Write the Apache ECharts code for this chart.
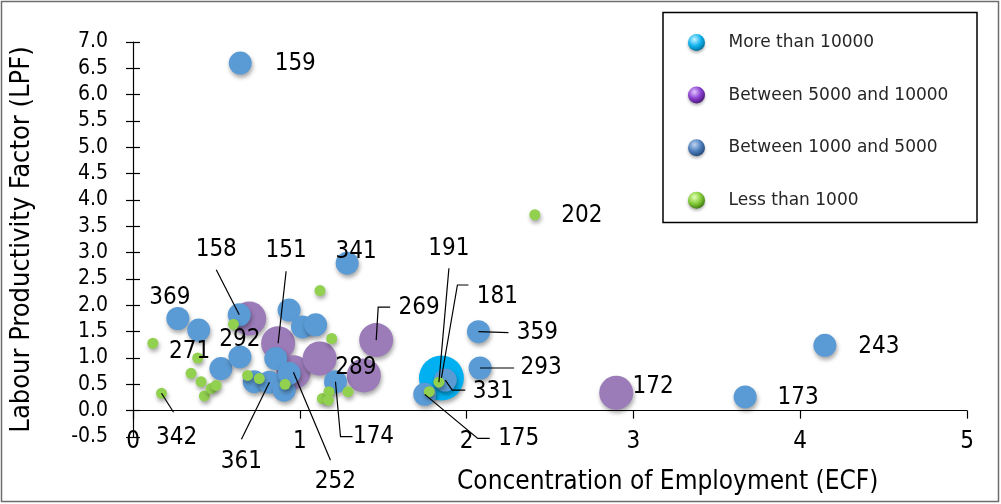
<!DOCTYPE html>
<html>
<head>
<meta charset="utf-8">
<script src="https://cdn.jsdelivr.net/npm/echarts@6/dist/echarts.min.js"></script>
<style>
 html,body{margin:0;padding:0;background:#fff;}
 #chart{width:1001px;height:504px;}
</style>
</head>
<body>
<div id="chart"></div>
<script>
// ---- data: ECF (x), LPF (y), label id per bubble ('' = no label) ----
var cyanX=[1.849];
var cyanY=[0.62];
var cyanId=['181'];

var purpleX=[0.697,0.870,0.962,1.119,1.458,1.384,2.897];
var purpleY=[1.75,1.28,0.73,0.99,1.34,0.67,0.34];
var purpleId=['','151','252','','269','289','172'];

var blueX=[0.643,0.269,0.394,0.527,0.641,0.637,0.727,0.856,0.818,0.906,0.936,0.936,1.016,1.095,1.284,1.214,1.872,1.749,2.071,2.081,3.670,4.148];
var blueY=[6.60,1.75,1.53,0.80,1.02,1.82,0.55,0.99,0.54,0.39,0.71,1.91,1.59,1.63,2.80,0.55,0.58,0.31,1.50,0.81,0.26,1.24];
var blueId=['159','369','','','292','158','','','361','','','','','','341','174','331','175','359','293','173','243'];

var greenX=[0.119,0.171,0.388,0.348,0.408,0.428,0.468,0.498,0.602,0.687,0.757,0.912,1.121,1.191,1.135,1.175,1.171,1.289,1.834,1.776,2.409];
var greenY=[1.28,0.33,1.00,0.71,0.55,0.28,0.42,0.48,1.64,0.67,0.61,0.50,2.28,1.37,0.23,0.36,0.20,0.36,0.54,0.36,3.72];
var greenId=['','342','271','','','','','','','','','','','','','','','','191','','202'];

var seriesNames=['More than 10000','Between 5000 and 10000','Between 1000 and 5000','Less than 1000'];
var xTicks=[0,1,2,3,4,5];

// ---- label placement (px, relative to bubble centre) ----
// off: label centre; start: leader end at the label (rel. to label centre); e: elbow length
var labelPlace={
 '159':{off:[55,1]}, '369':{off:[-8,-21]}, '292':{off:[0,-17]}, '341':{off:[9,-11]},
 '173':{off:[53,1]}, '243':{off:[54,1]}, '289':{off:[-8,-8]}, '172':{off:[37,-6]},
 '271':{off:[-8,-6]}, '202':{off:[47,1]},
 '158':{off:[-23,-65],start:[0,20]},
 '151':{off:[8,-92],start:[0,20]},
 '361':{off:[-28,80],start:[0,-23]},
 '252':{off:[42,110],start:[-5,-22]},
 '342':{off:[15,44],start:[-3,-25]},
 '191':{off:[10,-133],start:[0,19]},
 '359':{off:[59,1],start:[-29,0]},
 '293':{off:[61,0],start:[-27,0]},
 '174':{off:[38,55],start:[-21,0],e:12},
 '331':{off:[48,12],start:[-28,-2],e:13},
 '175':{off:[94,44],start:[-29,0],e:12},
 '269':{off:[43,-32],start:[-29,-1],e:12},
 '181':{off:[56,-81],start:[-29,-12],e:11}
};

var NARROW='"Liberation Sans Narrow","Arial Narrow","DejaVu Sans Condensed",sans-serif';
var colors=['#00B0F0','#9B7BB8','#5B9BD5','#92D050'];
var sizes=[45,34,23,11];
var xs=[cyanX,purpleX,blueX,greenX];
var ys=[cyanY,purpleY,blueY,greenY];
var ids=[cyanId,purpleId,blueId,greenId];

function ball(c0,c1,c2){
 return new echarts.graphic.RadialGradient(0.38,0.32,0.7,[
  {offset:0,color:c0},{offset:0.55,color:c1},{offset:1,color:c2}]);
}
var legendBalls=[ball('#c8f4ff','#12b4f0','#00709c'),ball('#e2c6ff','#8a3fd0','#4b1878'),
                 ball('#bcd6f0','#4f7fbf','#254a7a'),ball('#e4ffb8','#86cc3a','#3f7a12')];

function points(k){
 return xs[k].map(function(x,i){
  return {value:[x,ys[k][i]],name:ids[k][i],label:{show:!!ids[k][i]}};
 });
}

var chart=echarts.init(document.getElementById('chart'),null,{renderer:'canvas'});

var series=seriesNames.map(function(n,k){
 return {
  name:n,type:'scatter',
  symbolSize:sizes[k],
  data:points(k),
  itemStyle:{color:colors[k],opacity:1,shadowBlur:4,shadowOffsetX:1,shadowOffsetY:3,shadowColor:'rgba(0,0,0,0.35)'},
  label:{show:true,formatter:'{b}',color:'#000',fontFamily:NARROW,fontSize:24,position:'inside'},
  labelLayout:function(p){
   var lp=labelPlace[ids[p.seriesIndex][p.dataIndex]];
   if(!lp)return {};
   var cx=p.rect.x+p.rect.width/2, cy=p.rect.y+p.rect.height/2;
   return {x:cx+lp.off[0],y:cy+lp.off[1],align:'center',verticalAlign:'middle'};
  },
  emphasis:{disabled:true}
 };
});

chart.setOption({
 animation:false,
 backgroundColor:'#fff',
 grid:{left:130,right:34,top:42,bottom:67},
 title:{text:'Concentration of Employment (ECF)',left:452,top:464,
  textStyle:{fontFamily:NARROW,fontSize:26,fontWeight:'normal',color:'#000'}},
 legend:{
  orient:'vertical',left:688,top:34,padding:0,itemWidth:18,itemHeight:17,itemGap:35.6,
  icon:'circle',selectedMode:false,
  textStyle:{fontFamily:'"DejaVu Sans",sans-serif',fontSize:17,color:'#262626',padding:[0,0,0,18]},
  data:seriesNames.map(function(n,k){return {name:n,itemStyle:{color:legendBalls[k],shadowBlur:3,shadowOffsetY:2,shadowColor:'rgba(0,0,0,0.3)'}};})
 },
 xAxis:[
  {type:'value',min:xTicks[0],max:xTicks[xTicks.length-1],interval:1,position:'bottom',
   axisLine:{show:false,onZero:false},axisTick:{show:false},splitLine:{show:false},
   axisLabel:{color:'#000',fontFamily:NARROW,fontSize:24,margin:-7}},
  {type:'value',min:xTicks[0],max:xTicks[xTicks.length-1],interval:1,position:'top',
   axisLine:{show:true,onZero:true,lineStyle:{color:'#000',width:1.2}},
   axisTick:{show:true,inside:true,length:8,lineStyle:{color:'#000',width:1.2}},
   axisLabel:{show:false},splitLine:{show:false}}
 ],
 yAxis:[
  {type:'value',min:-0.5,max:7,interval:0.5,
   name:'Labour Productivity Factor (LPF)',nameLocation:'middle',nameGap:98,nameRotate:90,
   nameTextStyle:{fontFamily:NARROW,fontSize:27,color:'#000'},
   axisLine:{show:true,onZero:false,lineStyle:{color:'#000',width:1.2}},
   axisTick:{show:true,length:7,lineStyle:{color:'#000',width:1.2}},
   axisLabel:{color:'#000',fontFamily:NARROW,fontSize:21,margin:25,formatter:function(v){return v.toFixed(1);}},
   splitLine:{show:false}},
  {type:'value',min:-0.5,max:7,interval:0.5,position:'left',
   axisLine:{show:false,onZero:false},
   axisTick:{show:true,inside:true,length:7,lineStyle:{color:'#000',width:1.2}},
   axisLabel:{show:false},splitLine:{show:false}}
 ],
 graphic:[
  {id:'frame',type:'rect',shape:{x:1.5,y:1.5,width:997,height:500},style:{fill:null,stroke:'#6e6e6e',lineWidth:1.5},silent:true},
  {id:'legendBox',type:'rect',shape:{x:663,y:12.5,width:314,height:210},style:{fill:null,stroke:'#000',lineWidth:1.5},silent:true}
 ],
 series:series
});

// leader lines: from bubble centre (via the chart's scales) to the label
var leaders=[];
ids.forEach(function(list,k){
 list.forEach(function(id,i){
  var lp=labelPlace[id];
  if(!lp||!lp.start)return;
  var c=chart.convertToPixel({seriesIndex:k},[xs[k][i],ys[k][i]]);
  var sx=c[0]+lp.off[0]+lp.start[0], sy=c[1]+lp.off[1]+lp.start[1];
  var pts=[[c[0],c[1]]];
  if(lp.e)pts.push([sx-lp.e,sy]);
  pts.push([sx,sy]);
  leaders.push({id:'lead'+id,type:'polyline',z:100,silent:true,
   shape:{points:pts},style:{stroke:'#000',lineWidth:1.2,fill:null}});
 });
});
chart.setOption({graphic:leaders});
</script>
</body>
</html>
